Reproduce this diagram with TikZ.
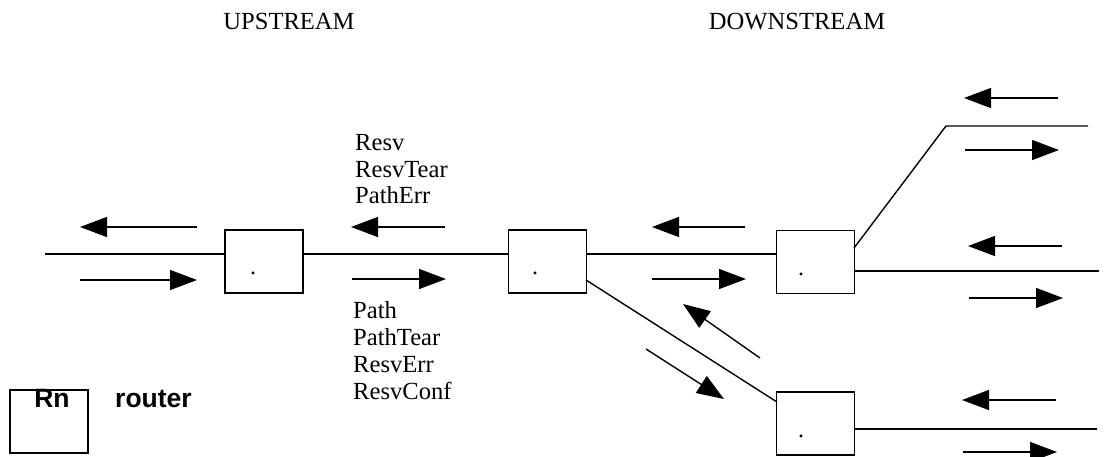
\documentclass[tikz,border=0pt]{standalone}
\usepackage{fontspec}
\setmainfont{Liberation Serif}
\newfontfamily\arialfont{Liberation Sans}
\usetikzlibrary{arrows.meta}
\begin{document}
\begin{tikzpicture}[x=1pt,y=-1pt,
  wire/.style={line width=1.4pt},
  msg/.style={line width=1.4pt,-{Triangle[length=27pt,width=20pt]}},
  router/.style={draw,line width=1.4pt,minimum width=78pt,minimum height=63pt,inner sep=0pt},
  lbl/.style={anchor=base west,inner sep=0pt,font=\fontsize{24.6}{27}\selectfont},
  ttl/.style={anchor=base,inner sep=0pt,font=\fontsize{24.6}{27}\selectfont},
  dotlbl/.style={anchor=base,inner sep=0pt,font=\fontsize{24}{27}\selectfont},
  legend/.style={anchor=base west,inner sep=0pt,font=\arialfont\bfseries\fontsize{26.5}{28}\selectfont}]
\useasboundingbox (0,0) rectangle (1104,456);

% titles
\node[ttl] (up) at (289,29) {UPSTREAM};
\node[ttl] (down) at (797,29) {DOWNSTREAM};

% routers
\node[router] (r1) at (264,261.5) {};
\node[router] (r2) at (547.5,261.5) {};
\node[router] (r3) at (815.5,262) {};
\node[router] (r4) at (815.5,423.5) {};
\node[dotlbl] (d1) at (253,274) {.};
\node[dotlbl] (d2) at (535,274) {.};
\node[dotlbl] (d3) at (801,275) {.};
\node[dotlbl] (d4) at (801,437) {.};

% wires
\coordinate (L0) at (45,254);
\draw[wire] (L0) -- (L0 -| r1.west);
\draw[wire] (r1.east |- L0) -- (r2.west |- L0);
\draw[wire] (r2.east |- L0) -- (r3.west |- L0);
\coordinate (b1) at (854,248);
\coordinate (b2) at (946,126);
\coordinate (b3) at (1088,126);
\draw[wire] (b1) -- (b2) -- (b3);
\coordinate (R3) at (1099,271);
\draw[wire] (r3.east |- R3) -- (R3);
\coordinate (R4) at (1097,429);
\draw[wire] (r4.east |- R4) -- (R4);
\coordinate (g1) at (586,280);
\coordinate (g2) at (777,402);
\draw[wire] (g1) -- (g2);

% message arrows
\draw[msg] (197,227) -- (80,227);
\draw[msg] (80,280) -- (197,280);
\draw[msg] (445,227) -- (351,227);
\draw[msg] (352,279) -- (446,279);
\draw[msg] (745,227) -- (652,227);
\draw[msg] (652,279) -- (746,279);
\draw[msg] (760,358) -- (683,304);
\draw[msg] (646,349) -- (724,399);
\draw[msg] (1058,98) -- (964,98);
\draw[msg] (965,150) -- (1059,150);
\draw[msg] (1062,246) -- (968,246);
\draw[msg] (969,298) -- (1063,298);
\draw[msg] (1056,400) -- (962,400);
\draw[msg] (963,452) -- (1057,452);

% labels
\node[lbl] (m1) at (355,150) {Resv};
\node[lbl] (m2) at (355,177) {ResvTear};
\node[lbl] (m3) at (355,203) {PathErr};
\node[lbl] (m4) at (353,318) {Path};
\node[lbl] (m5) at (353,345) {PathTear};
\node[lbl] (m6) at (353,372) {ResvErr};
\node[lbl] (m7) at (353,399) {ResvConf};

% legend
\node[router] (leg) at (49,421.5) {};
\node[legend,anchor=base] (rn) at (52,407) {Rn};
\node[legend] (rt) at (115,407) {router};
\end{tikzpicture}
\end{document}
